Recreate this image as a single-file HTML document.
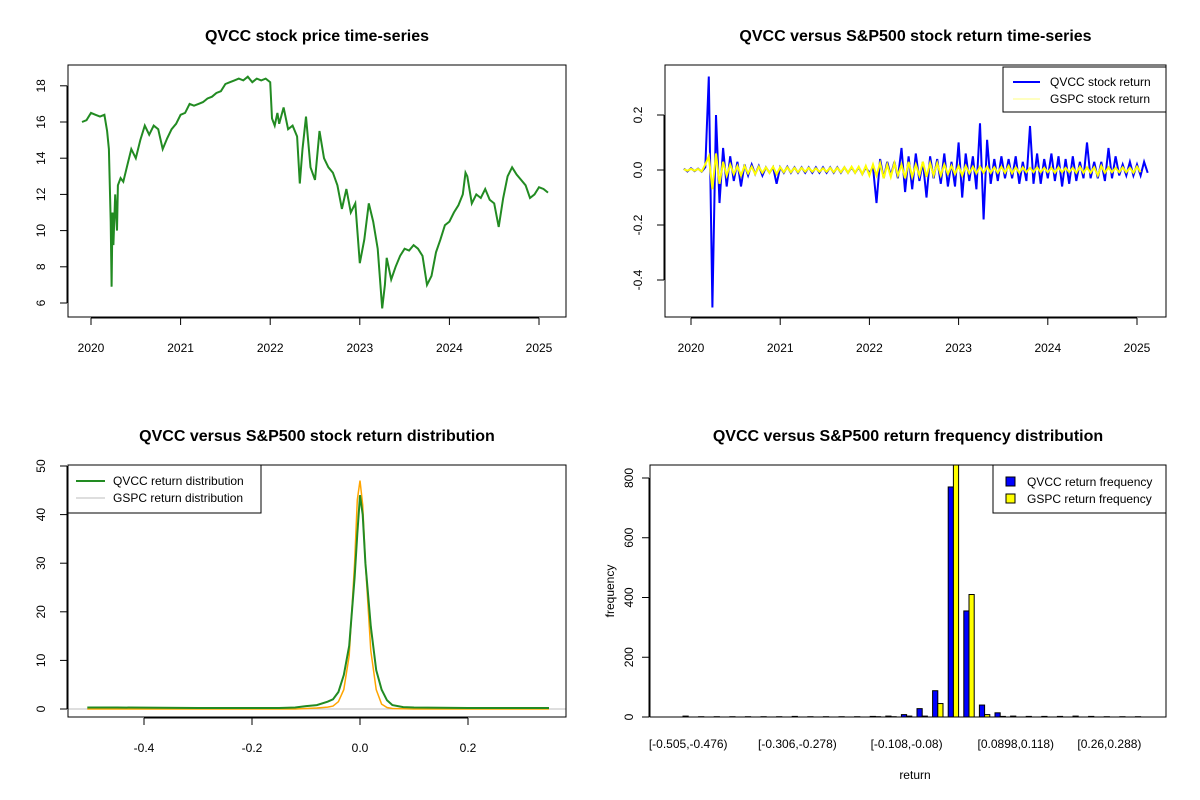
<!DOCTYPE html>
<html><head><meta charset="utf-8"><style>
body{margin:0;background:#fff;}
svg{display:block;font-family:"Liberation Sans",Arial,sans-serif;}
.t{font-weight:bold;font-size:16px;text-anchor:middle;}
.tk{font-size:12px;}
</style></head><body>
<svg id="c" width="1200" height="800" xmlns="http://www.w3.org/2000/svg"></svg>
<script>
// ---- data ----
const priceYears=[2019.9,2019.95,2020.0,2020.05,2020.1,2020.15,2020.18,2020.2,2020.22,2020.23,2020.24,2020.25,2020.27,2020.29,2020.3,2020.33,2020.36,2020.4,2020.45,2020.5,2020.55,2020.6,2020.65,2020.7,2020.75,2020.8,2020.85,2020.9,2020.95,2021.0,2021.05,2021.1,2021.15,2021.2,2021.25,2021.3,2021.35,2021.4,2021.45,2021.5,2021.55,2021.6,2021.65,2021.7,2021.75,2021.8,2021.85,2021.9,2021.95,2022.0,2022.02,2022.05,2022.08,2022.1,2022.15,2022.2,2022.25,2022.3,2022.33,2022.36,2022.4,2022.45,2022.5,2022.55,2022.6,2022.65,2022.7,2022.75,2022.8,2022.85,2022.9,2022.95,2023.0,2023.05,2023.1,2023.15,2023.2,2023.25,2023.28,2023.3,2023.35,2023.4,2023.45,2023.5,2023.55,2023.6,2023.65,2023.7,2023.75,2023.8,2023.85,2023.9,2023.95,2024.0,2024.05,2024.1,2024.15,2024.18,2024.2,2024.25,2024.3,2024.35,2024.4,2024.45,2024.5,2024.55,2024.6,2024.65,2024.7,2024.75,2024.8,2024.85,2024.9,2024.95,2025.0,2025.05,2025.1];
const priceValues=[16.0,16.1,16.5,16.4,16.3,16.4,15.5,14.5,10.5,6.9,11,9.2,12,10,12.5,12.9,12.7,13.5,14.5,14,15,15.8,15.3,15.8,15.6,14.5,15.1,15.6,15.9,16.4,16.5,17.0,16.9,17.0,17.1,17.3,17.4,17.6,17.7,18.1,18.2,18.3,18.4,18.3,18.5,18.2,18.4,18.3,18.4,18.2,16.2,15.8,16.5,15.9,16.8,15.6,15.8,15.2,12.6,14.5,16.3,13.5,12.8,15.5,14.0,13.5,13.2,12.5,11.2,12.3,11.0,11.5,8.2,9.5,11.5,10.5,9.0,5.7,7.0,8.5,7.3,8.0,8.6,9.0,8.9,9.2,9.0,8.6,7.0,7.5,8.8,9.5,10.3,10.5,11.0,11.4,12.0,13.2,13.0,11.5,12.0,11.8,12.3,11.7,11.5,10.2,11.8,13.0,13.5,13.1,12.8,12.5,11.8,12.0,12.4,12.3,12.1];
const returnStart=2019.92, returnStep=0.04;
const qvccReturns=[0.005,-0.005,0.006,-0.004,0.005,-0.006,0.01,0.34,-0.5,0.2,-0.12,0.08,-0.06,0.05,-0.04,0.03,-0.06,0.02,-0.02,0.02,-0.015,0.015,-0.02,0.01,-0.01,0.01,-0.05,0.01,-0.01,0.012,-0.01,0.01,-0.01,0.01,-0.01,0.01,-0.01,0.01,-0.01,0.01,-0.01,0.01,-0.01,0.01,-0.01,0.01,-0.01,0.01,-0.01,0.01,-0.015,0.01,-0.01,0.01,-0.12,0.04,-0.03,0.03,-0.02,0.03,-0.03,0.08,-0.08,0.05,-0.07,0.06,-0.04,0.03,-0.1,0.05,-0.03,0.04,-0.05,0.06,-0.06,0.03,-0.06,0.1,-0.1,0.06,-0.04,0.05,-0.07,0.17,-0.18,0.11,-0.05,0.04,-0.04,0.05,-0.03,0.04,-0.03,0.05,-0.05,0.03,-0.04,0.16,-0.05,0.06,-0.05,0.04,-0.03,0.06,-0.04,0.05,-0.06,0.04,-0.05,0.05,-0.04,0.03,-0.03,0.1,-0.03,0.03,-0.03,0.03,-0.04,0.08,-0.03,0.05,-0.02,0.02,-0.02,0.03,-0.02,0.02,-0.02,0.03,-0.01];
const gspcReturns=[0.003,-0.003,0.004,-0.003,0.004,-0.005,0.02,0.05,-0.07,0.06,-0.05,0.03,-0.02,0.02,-0.015,0.015,-0.02,0.015,-0.012,0.012,-0.015,0.012,-0.01,0.01,-0.01,0.012,-0.015,0.01,-0.008,0.01,-0.008,0.008,-0.008,0.008,-0.006,0.008,-0.006,0.006,-0.006,0.006,-0.006,0.008,-0.008,0.008,-0.008,0.01,-0.01,0.012,-0.01,0.012,-0.015,0.015,-0.02,0.02,-0.02,0.025,-0.03,0.02,-0.025,0.025,-0.02,0.02,-0.03,0.03,-0.025,0.02,-0.02,0.03,-0.025,0.025,-0.02,0.025,-0.02,0.02,-0.015,0.015,-0.015,0.015,-0.02,0.015,-0.012,0.012,-0.012,0.012,-0.01,0.012,-0.01,0.01,-0.01,0.012,-0.01,0.015,-0.012,0.01,-0.01,0.01,-0.008,0.008,-0.008,0.01,-0.008,0.008,-0.008,0.008,-0.01,0.01,-0.008,0.008,-0.008,0.008,-0.01,0.012,-0.01,0.01,-0.01,0.01,-0.02,0.015,-0.01,0.01,-0.008,0.008,-0.008,0.01,-0.008,0.008,-0.01,0.012,-0.008];
const densityX=[-0.505,-0.45,-0.3,-0.2,-0.15,-0.12,-0.1,-0.08,-0.06,-0.05,-0.04,-0.03,-0.02,-0.01,-0.005,0,0.005,0.01,0.02,0.03,0.04,0.05,0.06,0.08,0.1,0.2,0.3,0.35];
const qvccDensity=[0.3,0.3,0.2,0.2,0.2,0.3,0.6,0.8,1.5,2.0,3.5,7,13,27,36,44,40,30,17,8,4,1.8,0.8,0.4,0.3,0.2,0.2,0.2];
const gspcDensity=[0,0,0,0,0,0,0.1,0.2,0.4,0.6,1.5,4,11,30,43,47,42,30,12,4,1,0.3,0.1,0.05,0,0,0,0];
const binLabels=["[-0.505,-0.476)","[-0.306,-0.278)","[-0.108,-0.08)","[0.0898,0.118)","[0.26,0.288)"];
const binLabelIndex=[0,7,14,21,27];
const qvccFreq=[3,1,1,1,1,1,1,2,1,1,1,1,2,3,8,28,88,770,355,40,14,3,2,2,2,3,2,1,1,1];
const gspcFreq=[0,0,0,0,0,0,0,0,0,0,0,0,1,1,3,3,45,850,410,8,2,0,0,0,0,0,0,0,0,0];

const svg=document.getElementById('c');
const NS='http://www.w3.org/2000/svg';
function el(tag,attrs,parent){const e=document.createElementNS(NS,tag);for(const k in attrs)e.setAttribute(k,attrs[k]);(parent||svg).appendChild(e);return e;}
function txt(s,x,y,cls,extra,parent){const e=el('text',Object.assign({x:x,y:y,class:cls},extra||{}),parent);e.textContent=s;return e;}
function clip(id,x0,y0,x1,y1){const d=el('defs',{});const c=el('clipPath',{id:id},d);el('rect',{x:x0,y:y0,width:x1-x0,height:y1-y0},c);}

function panel(name,box,title){
  const g=el('g',{});
  
  
  const t=txt(title,(box[0]+box[2])/2,box[1]-24,'t',{},g);
  
  
  return g;
}
function frame(g,box,name){
  const r=el('rect',{x:box[0],y:box[1],width:box[2]-box[0],height:box[3]-box[1],fill:'none',stroke:'#000','stroke-width':1},g);
  
  
}
function xTicks(g,vals,labels,sx,y,name){
  const ax=el('g',{},g);
  
  
  el('line',{x1:sx(vals[0]),x2:sx(vals[vals.length-1]),y1:y,y2:y,stroke:'#000'},ax);
  vals.forEach((v,i)=>{el('line',{x1:sx(v),x2:sx(v),y1:y,y2:y+7,stroke:'#000'},ax);
    txt(labels[i],sx(v),y+34,'tk',{'text-anchor':'middle'},ax);});
}
function yTicks(g,vals,labels,sy,x,name,off){
  off=off||22;
  const ax=el('g',{},g);
  
  
  el('line',{x1:x,x2:x,y1:sy(vals[0]),y2:sy(vals[vals.length-1]),stroke:'#000'},ax);
  vals.forEach((v,i)=>{el('line',{x1:x,x2:x-7,y1:sy(v),y2:sy(v),stroke:'#000'},ax);
    txt(labels[i],x-off,sy(v),'tk',{'text-anchor':'middle',transform:`rotate(-90 ${x-off} ${sy(v)})`},ax);});
}
function pathD(xs,ys,sx,sy){return xs.map((x,i)=>(i?'L':'M')+sx(x).toFixed(1)+','+sy(ys[i]).toFixed(1)).join('');}

// ---- Panel 1: price ----
{
  const box=[68,65,566,317];
  const g=panel('price-panel',box,'QVCC stock price time-series');
  const sx=v=>91+(v-2020)*89.6, sy=v=>303-(v-6)*18.1;
  const years=[2020,2021,2022,2023,2024,2025];
  xTicks(g,years,years.map(String),sx,box[3]+1,'price-x-axis');
  const yv=[6,8,10,12,14,16,18];
  yTicks(g,yv,yv.map(String),sy,box[0]-1,'price-y-axis');
  const p=el('path',{d:pathD(priceYears,priceValues,sx,sy),fill:'none',stroke:'#228B22','stroke-width':2,'stroke-linejoin':'miter'},g);
  
  
  frame(g,box,'price');
}
// ---- Panel 2: returns ----
{
  const box=[665,65,1166,317];
  const g=panel('return-panel',box,'QVCC versus S&P500 stock return time-series');
  const sx=v=>691+(v-2020)*89.2, sy=v=>170-v*275;
  const years=[2020,2021,2022,2023,2024,2025];
  xTicks(g,years,years.map(String),sx,box[3]+1,'return-x-axis');
  const yv=[-0.4,-0.2,0,0.2];
  yTicks(g,yv,['-0.4','-0.2','0.0','0.2'],sy,box[0]-1,'return-y-axis');
  const tq=qvccReturns.map((_,i)=>returnStart+i*returnStep);
  const tg=gspcReturns.map((_,i)=>returnStart+i*returnStep);
  const q=el('path',{d:pathD(tq,qvccReturns,sx,sy),fill:'none',stroke:'#0000FF','stroke-width':2},g);
  
  
  const s=el('path',{d:pathD(tg,gspcReturns,sx,sy),fill:'none',stroke:'#FFFF00','stroke-width':2},g);
  
  
  frame(g,box,'return');
  const lg=el('g',{},g);
  
  
  el('rect',{x:1003,y:67,width:163,height:45,fill:'#fff',stroke:'#000'},lg);
  el('line',{x1:1013,x2:1040,y1:82,y2:82,stroke:'#0000FF','stroke-width':2},lg);
  txt('QVCC stock return',1050,86,'tk',{},lg);
  el('line',{x1:1013,x2:1040,y1:99,y2:99,stroke:'#FFFF80','stroke-width':1},lg);
  txt('GSPC stock return',1050,103,'tk',{},lg);
}
// ---- Panel 3: density ----
{
  const box=[68,465,566,717];
  const g=panel('density-panel',box,'QVCC versus S&P500 stock return distribution');
  const sx=v=>360+v*540, sy=v=>709-v*4.86;
  const xv=[-0.4,-0.2,0,0.2];
  xTicks(g,xv,['-0.4','-0.2','0.0','0.2'],sx,box[3]+1,'density-x-axis');
  const yv=[0,10,20,30,40,50];
  yTicks(g,yv,yv.map(String),sy,box[0]-1,'density-y-axis');
  el('line',{x1:box[0],x2:box[2],y1:sy(0),y2:sy(0),stroke:'#BEBEBE'},g);
  const o=el('path',{d:pathD(densityX,gspcDensity,sx,sy),fill:'none',stroke:'#FFA500','stroke-width':1.5},g);
  
  
  const gr=el('path',{d:pathD(densityX,qvccDensity,sx,sy),fill:'none',stroke:'#228B22','stroke-width':2},g);
  
  
  frame(g,box,'density');
  const lg=el('g',{},g);
  
  
  el('rect',{x:68,y:465,width:193,height:48,fill:'#fff',stroke:'#000'},lg);
  el('line',{x1:76,x2:105,y1:481,y2:481,stroke:'#228B22','stroke-width':2},lg);
  txt('QVCC return distribution',113,485,'tk',{},lg);
  el('line',{x1:76,x2:105,y1:498,y2:498,stroke:'#BEBEBE','stroke-width':1},lg);
  txt('GSPC return distribution',113,502,'tk',{},lg);
}
// ---- Panel 4: histogram ----
{
  const box=[650,465,1166,717];
  const g=panel('return-histogram',box,'QVCC versus S&P500 return frequency distribution');
  clip('hclip',box[0],box[1],box[2],box[3]);
  const bw=5.2, gw=15.6, x0=683;
  const sy=v=>717-v*0.29875;
  const yv=[0,200,400,600,800];
  yTicks(g,yv,yv.map(String),sy,box[0]-1,'histogram-y-axis',16);
  const bars=el('g',{'clip-path':'url(#hclip)'},g);
  qvccFreq.forEach((v,i)=>{
    const r=el('rect',{x:x0+i*gw,y:sy(v),width:bw,height:Math.max(0,sy(0)-sy(v)),fill:'#0000FF',stroke:'#000','stroke-width':1},bars);
    
    
  });
  gspcFreq.forEach((v,i)=>{
    const r=el('rect',{x:x0+i*gw+bw,y:sy(v),width:bw,height:Math.max(0,sy(0)-sy(v)),fill:'#FFFF00',stroke:'#000','stroke-width':1},bars);
    
    
  });
  binLabelIndex.forEach((bi,k)=>{
    const t=txt(binLabels[k],x0+bi*gw+bw,748,'tk',{'text-anchor':'middle'},g);
    
    
  });
  const yl=txt('frequency',614,591,'tk',{'text-anchor':'middle',transform:'rotate(-90 614 591)'},g);
  
  
  const xl=txt('return',915,779,'tk',{'text-anchor':'middle'},g);
  
  
  frame(g,box,'histogram');
  const lg=el('g',{},g);
  
  
  el('rect',{x:993,y:465,width:173,height:48,fill:'#fff',stroke:'#000'},lg);
  el('rect',{x:1006,y:477,width:9,height:9,fill:'#0000FF',stroke:'#000'},lg);
  txt('QVCC return frequency',1027,486,'tk',{},lg);
  el('rect',{x:1006,y:494,width:9,height:9,fill:'#FFFF00',stroke:'#000'},lg);
  txt('GSPC return frequency',1027,503,'tk',{},lg);
}
</script>
</body></html>
